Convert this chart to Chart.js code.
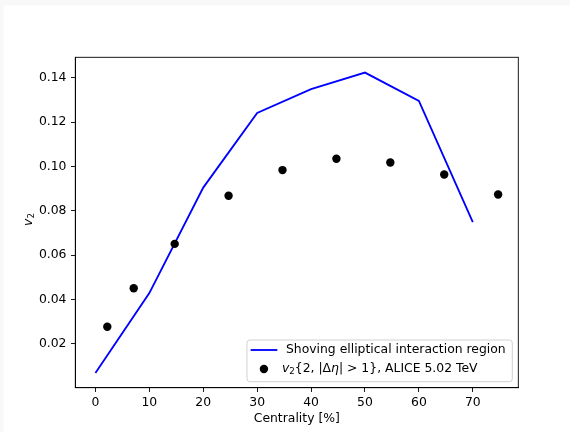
<!DOCTYPE html>
<html>
<head>
<meta charset="utf-8">
<script src="https://cdn.jsdelivr.net/npm/chart.js@4.4.1/dist/chart.umd.min.js"></script>
<style>
  html, body { margin: 0; padding: 0; background: #fff; }
  #wrap { width: 570px; height: 432px; }
</style>
</head>
<body>
<div id="wrap"><canvas id="v2Chart" width="570" height="432"></canvas></div>
<script>
// model curve (shoving, elliptical region)
const centralityModel = [0, 10, 20, 30, 40, 50, 60, 70];
const v2Model = [0.0068, 0.0429, 0.0905, 0.1242, 0.1349, 0.1424, 0.1296, 0.0749];

// ALICE 5.02 TeV data points
const centralityAlice = [2.2, 7.1, 14.7, 24.7, 34.7, 44.7, 54.7, 64.7, 74.7];
const v2Alice = [0.0277, 0.0451, 0.0651, 0.0868, 0.0984, 0.1035, 0.1018, 0.0964, 0.0874];

const xTicks = [0, 10, 20, 30, 40, 50, 60, 70];
const yTicks = [0.02, 0.04, 0.06, 0.08, 0.10, 0.12, 0.14];

const seriesLabels = ['Shoving elliptical interaction region', 'v2{2, |Δη| > 1}, ALICE 5.02 TeV'];
// same label as pieces, for the math-style drawing in the legend
const aliceLabelParts = [
	{t: 'v', it: true}, {t: '2', sub: true}, {t: '{2, |Δ'}, {t: 'η', it: true}, {t: '| > 1}, ALICE 5.02 TeV'}
];
const yTitleParts = [{t: 'v', it: true}, {t: '2', sub: true}];
const xTitle = 'Centrality [%]';

const FONT = 'DejaVu Sans';
const SIZE = 12.4;

function partFont(p) {
	return (p.it ? 'italic ' : '') + (p.sub ? SIZE * 0.7 : SIZE) + 'px "' + FONT + '"';
}
function richWidth(ctx, parts) {
	let w = 0;
	for (const p of parts) { ctx.font = partFont(p); w += ctx.measureText(p.t).width; }
	return w;
}
function drawRich(ctx, parts, x, y) {
	for (const p of parts) {
		ctx.font = partFont(p);
		ctx.fillText(p.t, x, y + (p.sub ? SIZE * 0.25 : 0));
		x += ctx.measureText(p.t).width;
	}
}

const frameAndLegend = {
	id: 'frameAndLegend',
	beforeDraw(chart) {
		// faint edge on the top and left of the picture
		const ctx = chart.ctx;
		ctx.save();
		ctx.fillStyle = '#f8f8f8';
		ctx.fillRect(0, 0, chart.width, chart.height);
		ctx.fillStyle = '#fff';
		ctx.fillRect(3.7, 5.3, chart.width, chart.height);
		ctx.restore();
	},
	afterDraw(chart) {
		const {ctx, chartArea: a} = chart;
		ctx.save();
		// full box round the axes
		ctx.strokeStyle = '#000';
		ctx.lineWidth = 0.9;
		ctx.strokeRect(a.left, a.top, a.right - a.left, a.bottom - a.top);

		// y axis title
		ctx.fillStyle = '#000';
		ctx.textBaseline = 'middle';
		ctx.save();
		ctx.translate(a.left - 46.8, (a.top + a.bottom) / 2 - 3);
		ctx.rotate(-Math.PI / 2);
		const tw = richWidth(ctx, yTitleParts);
		drawRich(ctx, yTitleParts, -tw / 2, 0);
		ctx.restore();

		// legend, lower right
		ctx.font = SIZE + 'px "' + FONT + '"';
		const w1 = ctx.measureText(seriesLabels[0]).width;
		const w2 = richWidth(ctx, aliceLabelParts);
		const boxW = 40 + Math.max(w1, w2) + 5.6, boxH = 41.7;
		const boxL = a.right - 6 - boxW, boxT = a.bottom - 6 - boxH;
		ctx.beginPath();
		ctx.roundRect(boxL, boxT, boxW, boxH, 3);
		ctx.fillStyle = 'rgba(255,255,255,0.8)';
		ctx.fill();
		ctx.strokeStyle = '#cccccc';
		ctx.lineWidth = 0.9;
		ctx.stroke();

		const y1 = boxT + 10, y2 = boxT + 29;
		const ds = chart.data.datasets;
		ctx.strokeStyle = ds[0].borderColor;
		ctx.lineWidth = ds[0].borderWidth;
		ctx.beginPath();
		ctx.moveTo(boxL + 3.7, y1);
		ctx.lineTo(boxL + 30.4, y1);
		ctx.stroke();
		ctx.fillStyle = '#000';
		ctx.font = SIZE + 'px "' + FONT + '"';
		ctx.fillText(seriesLabels[0], boxL + 39, y1);

		ctx.fillStyle = ds[1].backgroundColor;
		ctx.beginPath();
		ctx.arc(boxL + 17, y2, ds[1].pointRadius, 0, Math.PI * 2);
		ctx.fill();
		ctx.fillStyle = '#000';
		drawRich(ctx, aliceLabelParts, boxL + 35, y2);
		ctx.restore();
	}
};

const tickFont = {family: FONT, size: SIZE};

new Chart(document.getElementById('v2Chart'), {
	type: 'scatter',
	data: {
		datasets: [
			{
				label: seriesLabels[0],
				data: centralityModel.map((x, i) => ({x: x, y: v2Model[i]})),
				showLine: true,
				borderColor: '#0000ff',
				backgroundColor: '#0000ff',
				borderWidth: 1.85,
				pointRadius: 0,
				pointHoverRadius: 0,
				order: 1
			},
			{
				label: seriesLabels[1],
				data: centralityAlice.map((x, i) => ({x: x, y: v2Alice[i]})),
				showLine: false,
				backgroundColor: '#000',
				borderColor: '#000',
				borderWidth: 0,
				pointRadius: 4.2,
				pointHoverRadius: 4.2,
				order: 0
			}
		]
	},
	options: {
		responsive: false,
		animation: false,
		devicePixelRatio: 1,
		layout: {padding: {left: 0, top: 57.3, right: 51.7, bottom: 0}},
		plugins: {legend: {display: false}, tooltip: {enabled: false}},
		scales: {
			x: {
				type: 'linear',
				min: -3.735,
				max: 78.44,
				afterBuildTicks: s => { s.ticks = xTicks.map(v => ({value: v})); },
				afterFit: s => { s.height = 44.3; },
				ticks: {autoSkip: false, maxRotation: 0, padding: 3, color: '#000', font: tickFont, callback: v => String(v)},
				grid: {drawOnChartArea: false, tickLength: 4.3, tickWidth: 0.9, tickColor: '#000'},
				border: {color: '#000', width: 0.9},
				title: {display: true, text: xTitle, color: '#000', font: tickFont, padding: {top: 0, bottom: 5.3}}
			},
			y: {
				type: 'linear',
				min: 0.0002,
				max: 0.1493,
				afterBuildTicks: s => { s.ticks = yTicks.map(v => ({value: v})); },
				afterFit: s => { s.width = 75.3; },
				ticks: {autoSkip: false, padding: 4.5, color: '#000', font: tickFont, callback: v => v.toFixed(2)},
				grid: {drawOnChartArea: false, tickLength: 4.3, tickWidth: 0.9, tickColor: '#000'},
				border: {color: '#000', width: 0.9},
				title: {display: false}
			}
		}
	},
	plugins: [frameAndLegend]
});
</script>
</body>
</html>
